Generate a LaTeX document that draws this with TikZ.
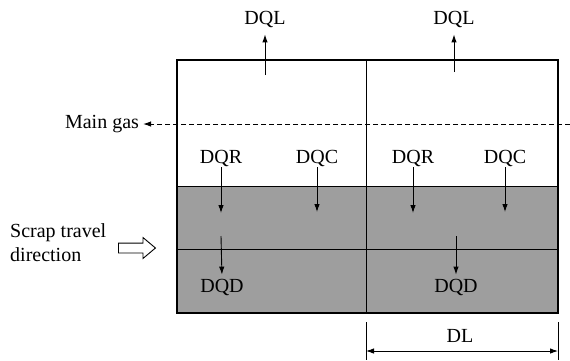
\documentclass[tikz,border=0pt]{standalone}
\usepackage{fontspec}
\setmainfont{Liberation Serif}
\usetikzlibrary{arrows.meta, positioning, shapes.arrows}

\begin{document}
\begin{tikzpicture}[
    x=1pt, y=-1pt,
    >={Latex[length=8pt,width=5.5pt]},
    every node/.style={font=\fontsize{20}{24}\selectfont, inner sep=1pt},
    flux/.style={->, line width=0.9pt},
    cell/.style={line width=0.9pt}
  ]
    \useasboundingbox (0,0) rectangle (570,360);

    % Scrap layer (shaded) and cells
    \fill[black!38] (177,186) rectangle (558,313);
    \draw[line width=1.1pt] (177,60) rectangle (558,313);
    \draw[cell] (366,60) -- (366,313);
    \draw[cell] (177,186) -- (558,186);
    \draw[cell] (177,249) -- (558,249);

    % Labels
    \node (dqlA) at (265,19) {DQL};
    \node (dqlB) at (454,19) {DQL};
    \node (dqrA) at (221,158) {DQR};
    \node (dqcA) at (317,158) {DQC};
    \node (dqrB) at (413,158) {DQR};
    \node (dqcB) at (505,158) {DQC};
    \node (dqdA) at (222,287) {DQD};
    \node (dqdB) at (456,287) {DQD};
    \node (gas) at (102,124) {Main gas};
    \node[align=left, anchor=west] (scrap) at (9,243) {Scrap travel\\direction};
    \node[single arrow, draw, line width=0.9pt, minimum height=37pt,
          inner xsep=0pt, inner ysep=4.5pt, single arrow head extend=5.5pt,
          single arrow tip angle=80] (move) at (134,248) {};
    \node (dl) at (460,336) {DL};

    % Arrow ends inside the cells
    \coordinate (qlA) at (265,75);
    \coordinate (qlB) at (454,72);
    \coordinate (qrA) at (221,213);
    \coordinate (qcA) at (317,212);
    \coordinate (qrB) at (413,213);
    \coordinate (qcB) at (505,212);
    \coordinate (qdA) at (221,236);
    \coordinate (qdB) at (456,236);
    \coordinate (gasin) at (570,124);

    % Heat losses
    \draw[flux, shorten >=6pt] (qlA) -- (dqlA.south);
    \draw[flux, shorten >=6pt] (qlB) -- (dqlB.south);
    \draw[flux] (dqrA.south) -- (qrA);
    \draw[flux] (dqcA.south) -- (qcA);
    \draw[flux] (dqrB.south) -- (qrB);
    \draw[flux] (dqcB.south) -- (qcB);
    \draw[flux, shorten >=3pt] (qdA) -- (dqdA.north);
    \draw[flux, shorten >=3pt] (qdB) -- (dqdB.north);

    % Main gas flow
    \draw[flux, dashed, dash pattern=on 5pt off 3pt, shorten >=3pt] (gasin) -- (gas.east);

    % Cell length
    \coordinate (dlL) at (366,322);
    \coordinate (dlR) at (558,322);
    \draw[cell] (dlL) -- ++(0,38);
    \draw[cell] (dlR) -- ++(0,38);
    \draw[<->, line width=0.9pt] ([yshift=-29pt]dlL) -- ([yshift=-29pt]dlR);

\end{tikzpicture}
\end{document}
